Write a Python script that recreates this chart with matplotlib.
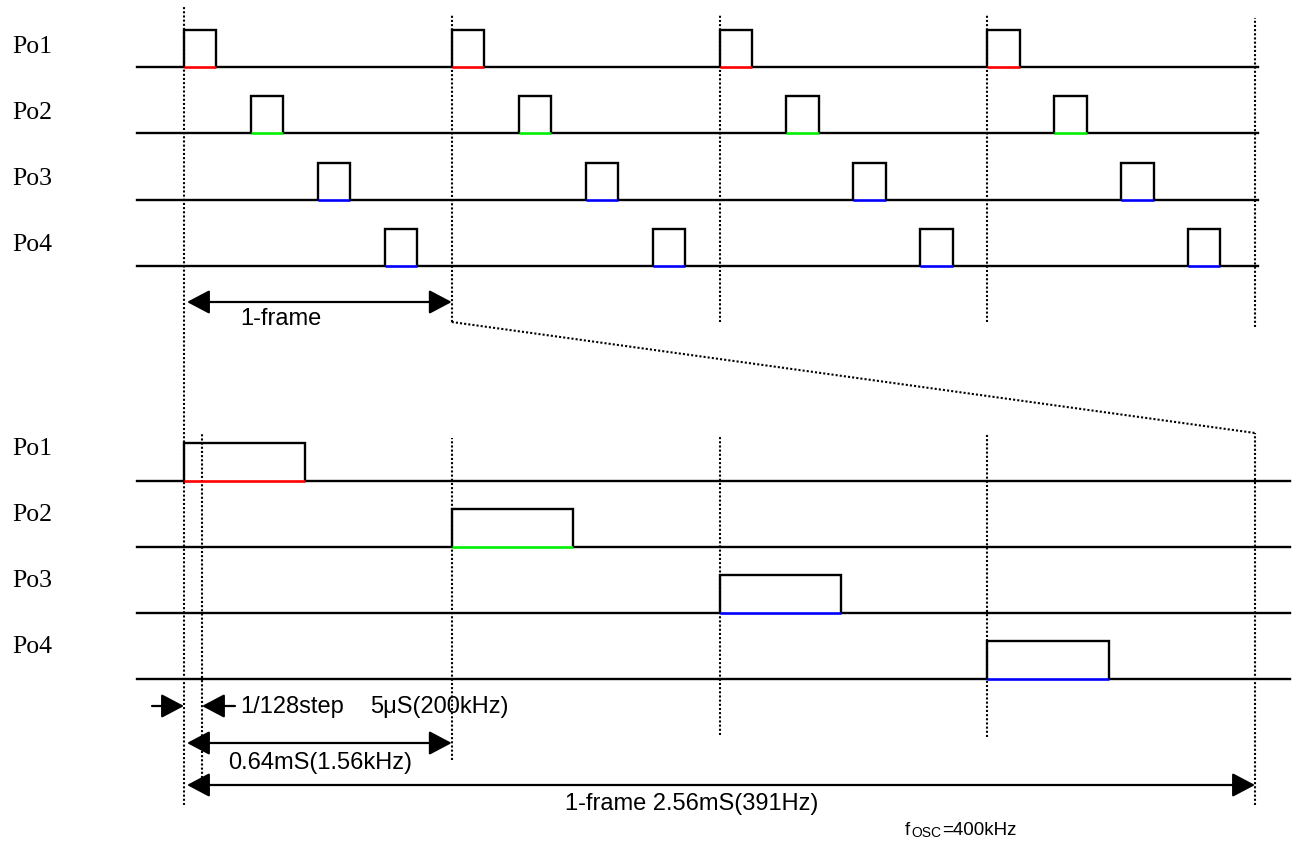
import matplotlib
matplotlib.use('Agg')
import matplotlib.pyplot as plt

# ---------------- data ----------------
channels = ['Po1', 'Po2', 'Po3', 'Po4']
channel_colors = ['#ff0000', '#00ee00', '#0000ff', '#0000ff']
frame_ms = 2.56                     # 1 frame = 2.56 mS (391 Hz)
slot_ms = 0.64                      # 0.64 mS (1.56 kHz)
frame_starts_ms = [0.0, 2.56, 5.12, 7.68]
slot_offsets_ms = [0.0, 0.64, 1.28, 1.92]
top_pulse_ms = 0.31                 # schematic pulse width, upper diagram
bottom_pulse_ms = 0.29              # schematic pulse width, lower diagram
step_marker_ms = 0.043              # schematic 1/128 step marker
top_text = '1-frame'
step_text = '1/128step'
step_time_text = '5\u03bcS(200kHz)'
slot_text = '0.64mS(1.56kHz)'
frame_text = '1-frame 2.56mS(391Hz)'
fosc_value_text = '=400kHz'

# ---------------- layout ----------------
W, H = 1304, 844
X0, XEND = 184, 1255
s_top = (XEND - X0) / (len(frame_starts_ms) * frame_ms)
s_bot = (XEND - X0) / frame_ms
TOP_BASE, TOP_PITCH, TOP_AMP = 67, 66.3, 37
BOT_BASE, BOT_PITCH, BOT_AMP = 481, 66.0, 38

fig = plt.figure(figsize=(W / 100, H / 100), dpi=100)
fig.patch.set_facecolor('white')

ax_top = fig.add_axes([0, 0, 1, 1])
ax_top.set_xlim(-X0 / s_top, (W - X0) / s_top)
ax_top.set_ylim((TOP_BASE - H) / TOP_PITCH, TOP_BASE / TOP_PITCH)
ax_top.axis('off')

ax_bot = fig.add_axes([0, 0, 1, 1])
ax_bot.set_xlim(-X0 / s_bot, (W - X0) / s_bot)
ax_bot.set_ylim((BOT_BASE - H) / BOT_PITCH, BOT_BASE / BOT_PITCH)
ax_bot.axis('off')
ax_bot.patch.set_alpha(0)


def ty(px):
    return (TOP_BASE - px) / TOP_PITCH


def by(px):
    return (BOT_BASE - px) / BOT_PITCH


def tx(px):
    return (px - X0) / s_top


def bx(px):
    return (px - X0) / s_bot


LW = 1.7
DOT_LW = 1.5
DOT = (0, (1.0, 1.0))


def draw_channel(ax, row, starts, width, amp, t_from, t_to, color):
    base = -row
    high = base + amp
    xs, ys = [t_from], [base]
    for t0 in starts:
        t1 = t0 + width
        xs += [t0, t0, t1, t1]
        ys += [base, high, high, base]
    xs.append(t_to)
    ys.append(base)
    for t0 in starts:
        ax.plot([t0, t0 + width], [base, base], color=color, lw=LW + 0.2,
                solid_capstyle='butt', zorder=3)
    ax.plot(xs, ys, color='black', lw=LW, solid_joinstyle='miter', zorder=2)


# ---------------- upper diagram ----------------
for i, (ch, col) in enumerate(zip(channels, channel_colors)):
    starts = [fs + slot_offsets_ms[i] for fs in frame_starts_ms]
    draw_channel(ax_top, i, starts, top_pulse_ms, TOP_AMP / TOP_PITCH,
                 tx(137), tx(1258), col)
    fig.text(12 / W, 1 - (53 + 66 * i) / H, ch, family='Liberation Serif',
             fontsize=18.5, va='baseline', ha='left')

frame_bounds = frame_starts_ms + [frame_starts_ms[-1] + frame_ms]
# long dotted line at t = 0 through both diagrams
ax_top.vlines(0, ty(805), ty(5), colors='black', lw=DOT_LW, linestyles=DOT)
for t in frame_bounds[1:-1]:
    ax_top.vlines(t, ty(322), ty(14), colors='black', lw=DOT_LW,
                  linestyles=DOT)
ax_top.vlines(frame_bounds[-1], ty(327), ty(18), colors='black', lw=DOT_LW,
              linestyles=DOT)
# zoom connector
ax_top.plot([frame_bounds[1], frame_bounds[-1]], [ty(322), ty(433)],
            color='black', lw=DOT_LW, ls=DOT)

arrow_kw = dict(arrowstyle='<|-|>,head_length=0.7,head_width=0.37',
                color='black', lw=1.6, shrinkA=0, shrinkB=0,
                mutation_scale=20)
one_kw = dict(arrowstyle='-|>,head_length=0.7,head_width=0.37',
              color='black', lw=1.6, shrinkA=0, shrinkB=0,
              mutation_scale=20)
ax_top.annotate('', xy=(frame_ms, ty(302)), xytext=(tx(187), ty(302)),
                arrowprops=arrow_kw)
fig.text(240 / W, 1 - 325 / H, top_text, family='Liberation Sans',
         fontsize=17, va='baseline')

# ---------------- lower diagram ----------------
for i, (ch, col) in enumerate(zip(channels, channel_colors)):
    starts = [slot_offsets_ms[i]]
    draw_channel(ax_bot, i, starts, bottom_pulse_ms, BOT_AMP / BOT_PITCH,
                 bx(137), bx(1290), col)
    fig.text(12 / W, 1 - (455 + 66 * i) / H, ch, family='Liberation Serif',
             fontsize=18.5, va='baseline', ha='left')

ax_bot.vlines(step_marker_ms, by(778), by(433), colors='black', lw=DOT_LW,
              linestyles=DOT)
bot_extents = {0.64: (438, 760), 1.28: (435, 735), 1.92: (433, 737),
               2.56: (433, 805)}
for t in slot_offsets_ms[1:] + [frame_ms]:
    y0, y1 = bot_extents[round(t, 2)]
    ax_bot.vlines(t, by(y1), by(y0), colors='black', lw=DOT_LW,
                  linestyles=DOT)

ax_bot.annotate('', xy=(0, by(706)), xytext=(bx(152), by(706)),
                arrowprops=one_kw)
ax_bot.annotate('', xy=(step_marker_ms, by(706)), xytext=(bx(235), by(706)),
                arrowprops=one_kw)
ax_bot.annotate('', xy=(slot_ms, by(743)), xytext=(bx(187), by(743)),
                arrowprops=arrow_kw)
ax_bot.annotate('', xy=(frame_ms, by(785)), xytext=(bx(187), by(785)),
                arrowprops=arrow_kw)

fig.text(240 / W, 1 - 713 / H, step_text, family='Liberation Sans',
         fontsize=17, va='baseline')
fig.text(370 / W, 1 - 713 / H, step_time_text, family='Liberation Sans',
         fontsize=17, va='baseline')
fig.text(228 / W, 1 - 769 / H, slot_text, family='Liberation Sans',
         fontsize=17, va='baseline')
fig.text(565 / W, 1 - 810 / H, frame_text, family='Liberation Sans',
         fontsize=17, va='baseline')
fig.text(905 / W, 1 - 835 / H, 'f', family='Liberation Sans',
         fontsize=13.5, va='baseline')
fig.text(911 / W, 1 - 837 / H, 'OSC', family='Liberation Sans',
         fontsize=10, va='baseline')
fig.text(942 / W, 1 - 835 / H, fosc_value_text, family='Liberation Sans',
         fontsize=13.5, va='baseline')

fig.savefig('out.png', dpi=100, facecolor='white')
